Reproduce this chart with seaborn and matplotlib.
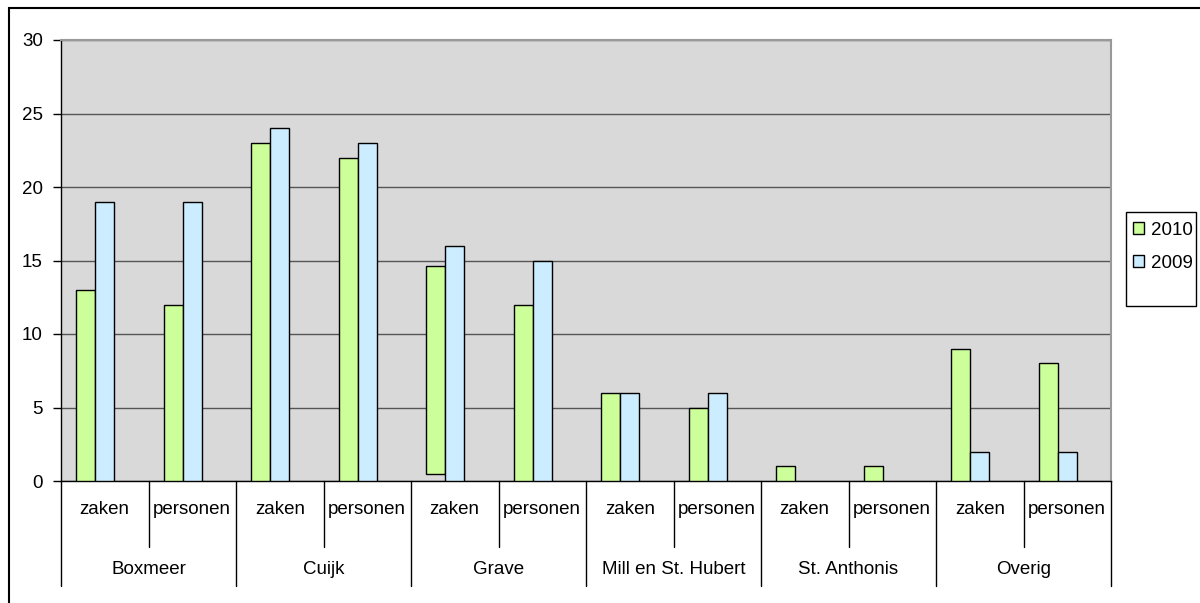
import matplotlib
matplotlib.use("Agg")
import matplotlib.pyplot as plt
from matplotlib.patches import Rectangle, Patch
import pandas as pd
import seaborn as sns

# --- DATI ---
groups = ["Boxmeer", "Cuijk", "Grave", "Mill en St. Hubert", "St. Anthonis", "Overig"]
subs = ["zaken", "personen"]
series = ["2010", "2009"]
vals_2010 = [13, 12, 23, 22, 14.6, 12, 6, 5, 1, 1, 9, 8]
vals_2009 = [19, 19, 24, 23, 16, 15, 6, 6, 0, 0, 2, 2]
base_2010 = [0, 0, 0, 0, 0.5, 0, 0, 0, 0, 0, 0, 0]
y_ticks = [0, 5, 10, 15, 20, 25, 30]

green = "#CCFF99"
blue = "#CCECFF"
fs = 13.5

sns.set_theme(style="white")
plt.rcParams['font.family'] = ['Liberation Sans', 'DejaVu Sans']
plt.rcParams['text.color'] = 'black'
plt.rcParams['ytick.color'] = 'black'

n = len(vals_2010)
labels = [str(i) for i in range(n)]
rows = []
for i in range(n):
    rows.append((labels[i], "2010", vals_2010[i]))
    rows.append((labels[i], "2009", vals_2009[i]))
    rows.append((labels[i], "pad", 0))  # terza serie vuota (come in Excel)
df = pd.DataFrame(rows, columns=["pos", "serie", "value"])

fig = plt.figure(figsize=(12, 6.03), dpi=100)
ax = fig.add_axes([61 / 1200, 1 - 481 / 603, (1111 - 61) / 1200, 441 / 603])
ax.set_facecolor("#D9D9D9")

sns.barplot(data=df, x="pos", y="value", hue="serie", order=labels,
            hue_order=["2010", "2009", "pad"], palette=[green, blue, green],
            width=0.655, edgecolor="black", linewidth=1, saturation=1,
            errorbar=None, legend=False, ax=ax, zorder=3)

# base sollevata della barra 2010 (Grave zaken)
for p, b, v in zip(ax.containers[0].patches, base_2010, vals_2010):
    p.set_y(b)
    p.set_height(v - b)
for p in ax.containers[1].patches:
    if p.get_height() == 0:
        p.set_visible(False)
for p in ax.containers[2].patches:
    p.set_visible(False)

ax.set_xlim(-0.5, n - 0.5)
ax.set_ylim(0, 30)
ax.set_yticks(y_ticks)
ax.yaxis.grid(True, color="#555555", linewidth=1)
ax.set_axisbelow(True)
ax.tick_params(axis="y", left=True, length=6, width=1, color="black",
               labelcolor="black", labelsize=fs, pad=7)
ax.set_xticks([])
ax.set_xlabel("")
ax.set_ylabel("")
for s in ["top", "right"]:
    ax.spines[s].set_color("#999999")
    ax.spines[s].set_linewidth(1.5)
for s in ["left", "bottom"]:
    ax.spines[s].set_color("black")
    ax.spines[s].set_linewidth(1)

# etichette a due livelli
trans = ax.get_xaxis_transform()
y_sub_end = -66 / 441
y_grp_end = -105 / 441
for i in range(n + 1):
    x = i - 0.5
    end = y_grp_end if i % 2 == 0 else y_sub_end
    ax.plot([x, x], [0, end], color="black", lw=1, transform=trans, clip_on=False)
for i in range(n):
    ax.text(i, -29 / 441, subs[i % 2], transform=trans, ha="center", va="center", fontsize=fs)
for g, name in enumerate(groups):
    ax.text(2 * g + 0.5, -89 / 441, name, transform=trans, ha="center", va="center", fontsize=fs)

# legenda
fig.patches.append(Rectangle((1126 / 1200, 1 - 306 / 603), 70 / 1200, 94 / 603,
                             transform=fig.transFigure, fill=False, edgecolor="black", lw=1))
handles = [Patch(facecolor=green, edgecolor="black", lw=1), Patch(facecolor=blue, edgecolor="black", lw=1)]
fig.legend(handles, series, loc="upper left", bbox_to_anchor=(1131 / 1200, 1 - 220 / 603),
           frameon=False, fontsize=fs, handlelength=0.6, handleheight=0.6,
           handletextpad=0.35, labelspacing=0.85, borderpad=0.1, borderaxespad=0)

# bordo del grafico
fig.patches.append(Rectangle((9 / 1200, -0.1), 1.2, 1.1 - 8 / 603,
                             transform=fig.transFigure, fill=False, edgecolor="black", lw=1.5))

plt.savefig("out.png", dpi=100)
plt.close()
